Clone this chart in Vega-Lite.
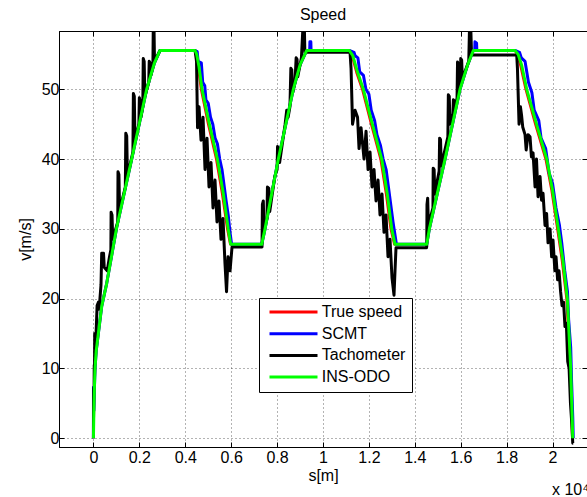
{
  "$schema": "https://vega.github.io/schema/vega-lite/v6.json",
  "width": 528,
  "height": 416,
  "autosize": {"type": "none"},
  "padding": {"left": 59, "top": 31, "right": 0, "bottom": 50},
  "background": "white",
  "title": {"text": "Speed", "fontSize": 16, "fontWeight": "normal", "font": "Liberation Sans", "color": "#000", "baseline": "alphabetic", "offset": -5, "anchor": "middle", "frame": "group"},
  "datasets": {
    "red": [
      {"s":0,"v":0},{"s":20,"v":4},{"s":40,"v":7},{"s":70,"v":10},{"s":120,"v":12.5},{"s":213,"v":15},{"s":360,"v":18.9},{"s":578,"v":22.2},{"s":866,"v":27.5},{"s":1013,"v":30.2},{"s":1667,"v":40},{"s":2320,"v":50},{"s":2650,"v":53.7},{"s":2900,"v":55.56},
      {"s":4426,"v":55.56},{"s":4480,"v":54.8},{"s":4570,"v":53},{"s":4690,"v":50},{"s":5000,"v":45},{"s":5350,"v":40},{"s":5610,"v":35},{"s":5830,"v":30},{"s":5960,"v":27.78},
      {"s":7331,"v":27.78},{"s":7475,"v":30},{"s":8054,"v":40},{"s":8708,"v":50},{"s":9000,"v":53.5},{"s":9291,"v":55.56},
      {"s":11147,"v":55.56},{"s":11280,"v":54.6},{"s":11460,"v":52.4},{"s":11710,"v":50},{"s":12100,"v":45},{"s":12510,"v":40},{"s":12750,"v":35},{"s":12950,"v":30},{"s":13110,"v":27.78},
      {"s":14519,"v":27.78},{"s":14632,"v":30},{"s":15316,"v":40},{"s":15969,"v":50},{"s":16300,"v":53.5},{"s":16548,"v":55.56},
      {"s":18366,"v":55.56},{"s":18480,"v":54.8},{"s":18610,"v":53.3},{"s":18830,"v":50},{"s":19250,"v":45},{"s":19700,"v":40},{"s":19960,"v":35.5},{"s":20210,"v":30},{"s":20410,"v":25.5},{"s":20610,"v":20},{"s":20770,"v":10},{"s":20860,"v":0}
    ],
    "blue": [
      {"s":0,"v":0},{"s":2,"v":7.3},{"s":20,"v":4},{"s":40,"v":7},{"s":70,"v":10},{"s":120,"v":12.5},{"s":213,"v":15},{"s":360,"v":18.9},{"s":578,"v":22.2},{"s":866,"v":27.5},{"s":1013,"v":30.2},{"s":1667,"v":40},{"s":2320,"v":50},{"s":2650,"v":53.7},{"s":2900,"v":55.56},
      {"s":4426,"v":55.56},{"s":4520,"v":55.4},{"s":4560,"v":54},{"s":4700,"v":53.8},{"s":4760,"v":51},{"s":4850,"v":50.5},{"s":4900,"v":48.5},{"s":5000,"v":48},{"s":5100,"v":46},{"s":5200,"v":45},{"s":5300,"v":43},{"s":5400,"v":42.2},{"s":5500,"v":40},{"s":5600,"v":38.5},{"s":5700,"v":36},{"s":5780,"v":34},{"s":5870,"v":32},{"s":5950,"v":29.5},{"s":6020,"v":27.78},
      {"s":7331,"v":27.78},{"s":7475,"v":30},{"s":8054,"v":40},{"s":8708,"v":50},{"s":9000,"v":53.5},{"s":9291,"v":55.56},{"s":9420,"v":55.56},{"s":9430,"v":56.8},{"s":9470,"v":56.8},{"s":9480,"v":55.56},
      {"s":11147,"v":55.56},{"s":11350,"v":55.3},{"s":11400,"v":54.8},{"s":11520,"v":54.5},{"s":11600,"v":52.5},{"s":11760,"v":52},{"s":11870,"v":50},{"s":12000,"v":49.3},{"s":12100,"v":47},{"s":12250,"v":45.5},{"s":12350,"v":43.5},{"s":12500,"v":42},{"s":12620,"v":40},{"s":12750,"v":38.5},{"s":12850,"v":36},{"s":12950,"v":33.5},{"s":13050,"v":31},{"s":13120,"v":29.5},{"s":13200,"v":27.78},
      {"s":14519,"v":27.78},{"s":14632,"v":30},{"s":15316,"v":40},{"s":15969,"v":50},{"s":16300,"v":53.5},{"s":16548,"v":55.56},{"s":16610,"v":55.56},{"s":16620,"v":56.8},{"s":16690,"v":56.6},{"s":16700,"v":55.56},
      {"s":18366,"v":55.56},{"s":18560,"v":55.3},{"s":18640,"v":54.5},{"s":18800,"v":54},{"s":18950,"v":51},{"s":19100,"v":49.5},{"s":19200,"v":47},{"s":19400,"v":45.5},{"s":19500,"v":43},{"s":19700,"v":41.5},{"s":19850,"v":38},{"s":20000,"v":36.5},{"s":20150,"v":33},{"s":20300,"v":30.5},{"s":20400,"v":28},{"s":20530,"v":24},{"s":20650,"v":21},{"s":20700,"v":17},{"s":20790,"v":13},{"s":20830,"v":8},{"s":20880,"v":3},{"s":20900,"v":0}
    ],
    "black": [
      {"s":0,"v":0},{"s":3,"v":3},{"s":10,"v":7},{"s":30,"v":7.5},{"s":35,"v":10.5},{"s":50,"v":10.5},{"s":55,"v":15},{"s":100,"v":15},{"s":110,"v":14.5},{"s":160,"v":19},{"s":220,"v":19.5},{"s":250,"v":18.5},{"s":330,"v":22},{"s":360,"v":26.5},{"s":440,"v":26.5},{"s":470,"v":24.5},{"s":600,"v":24},{"s":700,"v":26},{"s":760,"v":27},{"s":770,"v":32.4},{"s":810,"v":32},{"s":840,"v":28.5},{"s":1000,"v":30.3},{"s":1060,"v":31},{"s":1070,"v":38.2},{"s":1110,"v":37.8},{"s":1140,"v":32.6},{"s":1390,"v":36},{"s":1410,"v":43.7},{"s":1450,"v":43.3},{"s":1480,"v":37.5},{"s":1720,"v":41},{"s":1740,"v":49.4},{"s":1780,"v":49},{"s":1810,"v":42.5},{"s":1980,"v":45},{"s":2000,"v":48.8},{"s":2040,"v":48.3},{"s":2070,"v":46},{"s":2150,"v":47.5},{"s":2170,"v":54.4},{"s":2210,"v":54},{"s":2240,"v":49},{"s":2410,"v":51},{"s":2430,"v":54},{"s":2470,"v":53.8},{"s":2500,"v":52},{"s":2590,"v":53.2},{"s":2605,"v":58.5},{"s":2640,"v":58.5},{"s":2660,"v":54},{"s":2900,"v":55.56},
      {"s":4426,"v":55.56},{"s":4491,"v":54},{"s":4535,"v":44.5},{"s":4600,"v":47.5},{"s":4687,"v":42.7},{"s":4774,"v":46},{"s":4861,"v":38.5},{"s":4948,"v":43},{"s":5035,"v":36},{"s":5122,"v":39.5},{"s":5209,"v":33},{"s":5296,"v":37},{"s":5383,"v":31},{"s":5470,"v":34},{"s":5557,"v":28.5},{"s":5644,"v":31.5},{"s":5731,"v":25},{"s":5798,"v":21},{"s":5863,"v":26},{"s":5950,"v":24},{"s":6037,"v":27.4},
      {"s":7344,"v":27.4},{"s":7360,"v":33.5},{"s":7400,"v":34},{"s":7430,"v":30},{"s":7560,"v":31.5},{"s":7580,"v":36},{"s":7640,"v":35.8},{"s":7680,"v":32.5},{"s":7900,"v":37.5},{"s":8000,"v":38.5},{"s":8020,"v":41.8},{"s":8080,"v":41.5},{"s":8110,"v":39.5},{"s":8350,"v":45},{"s":8420,"v":47},{"s":8450,"v":46.5},{"s":8480,"v":46},{"s":8560,"v":47.5},{"s":8600,"v":53},{"s":8640,"v":52.8},{"s":8680,"v":49.5},{"s":8780,"v":51},{"s":8830,"v":54.5},{"s":8870,"v":54.3},{"s":8900,"v":51.8},{"s":9060,"v":54.5},{"s":9120,"v":58.5},{"s":9190,"v":58.5},{"s":9210,"v":55.3},
      {"s":11178,"v":55.3},{"s":11222,"v":53},{"s":11287,"v":45},{"s":11396,"v":47},{"s":11505,"v":46},{"s":11570,"v":41.5},{"s":11657,"v":44.5},{"s":11788,"v":40},{"s":11875,"v":44},{"s":11962,"v":38.5},{"s":12049,"v":41},{"s":12136,"v":36},{"s":12223,"v":38.5},{"s":12310,"v":34},{"s":12397,"v":37},{"s":12484,"v":32},{"s":12571,"v":35},{"s":12658,"v":29.5},{"s":12745,"v":32},{"s":12832,"v":26},{"s":12919,"v":28.5},{"s":13006,"v":23},{"s":13093,"v":20.5},{"s":13137,"v":24},{"s":13180,"v":27.3},
      {"s":14509,"v":27.3},{"s":14520,"v":27.5},{"s":14530,"v":33.5},{"s":14560,"v":34.4},{"s":14590,"v":30.5},{"s":14790,"v":33},{"s":14800,"v":38.7},{"s":14840,"v":38.5},{"s":14870,"v":35},{"s":15060,"v":38.3},{"s":15080,"v":43},{"s":15120,"v":42.8},{"s":15150,"v":39},{"s":15440,"v":43.2},{"s":15460,"v":49.2},{"s":15500,"v":49},{"s":15530,"v":45},{"s":15660,"v":46.5},{"s":15680,"v":48.5},{"s":15720,"v":48.3},{"s":15750,"v":47},{"s":15840,"v":48.8},{"s":15860,"v":53.9},{"s":15900,"v":53.5},{"s":15940,"v":50},{"s":15990,"v":51},{"s":16000,"v":54.4},{"s":16040,"v":54.2},{"s":16070,"v":51.5},{"s":16350,"v":54},{"s":16380,"v":58.5},{"s":16440,"v":58.5},{"s":16470,"v":55},{"s":16560,"v":54.9},
      {"s":18439,"v":54.9},{"s":18470,"v":53},{"s":18540,"v":45},{"s":18600,"v":47.5},{"s":18649,"v":46.3},{"s":18700,"v":44.6},{"s":18801,"v":43.5},{"s":18850,"v":41.3},{"s":18932,"v":43.5},{"s":19019,"v":43.2},{"s":19080,"v":40.3},{"s":19150,"v":40.9},{"s":19237,"v":36},{"s":19300,"v":40},{"s":19368,"v":34.6},{"s":19455,"v":37.5},{"s":19520,"v":34.1},{"s":19585,"v":35.1},{"s":19672,"v":30.5},{"s":19740,"v":32.2},{"s":19803,"v":28},{"s":19890,"v":30},{"s":19960,"v":26},{"s":20020,"v":28.4},{"s":20100,"v":24},{"s":20151,"v":26},{"s":20220,"v":22.7},{"s":20282,"v":24},{"s":20350,"v":21},{"s":20412,"v":19},{"s":20480,"v":19.5},{"s":20540,"v":16},{"s":20600,"v":16.5},{"s":20660,"v":11},{"s":20720,"v":10},{"s":20780,"v":5},{"s":20840,"v":2},{"s":20880,"v":-0.7},{"s":20900,"v":-0.7}
    ],
    "green": [
      {"s":0,"v":0},{"s":20,"v":4},{"s":40,"v":7},{"s":70,"v":10},{"s":120,"v":12.5},{"s":213,"v":15},{"s":360,"v":18.9},{"s":578,"v":22.2},{"s":866,"v":27.5},{"s":1013,"v":30.2},{"s":1667,"v":40},{"s":2320,"v":50},{"s":2650,"v":53.7},{"s":2900,"v":55.56},
      {"s":4426,"v":55.56},{"s":4500,"v":55},{"s":4600,"v":53.2},{"s":4730,"v":50},{"s":5050,"v":45},{"s":5400,"v":40},{"s":5660,"v":35},{"s":5870,"v":30},{"s":5980,"v":27.78},
      {"s":7331,"v":27.78},{"s":7475,"v":30},{"s":8054,"v":40},{"s":8708,"v":50},{"s":9000,"v":53.5},{"s":9291,"v":55.56},
      {"s":11147,"v":55.56},{"s":11300,"v":54.8},{"s":11500,"v":52.5},{"s":11757,"v":50},{"s":12150,"v":45},{"s":12558,"v":40},{"s":12800,"v":35},{"s":12994,"v":30},{"s":13138,"v":27.78},
      {"s":14519,"v":27.78},{"s":14632,"v":30},{"s":15316,"v":40},{"s":15969,"v":50},{"s":16300,"v":53.5},{"s":16548,"v":55.56},
      {"s":18366,"v":55.56},{"s":18500,"v":55},{"s":18650,"v":53.5},{"s":18875,"v":50},{"s":19300,"v":45},{"s":19746,"v":40},{"s":20000,"v":35.5},{"s":20251,"v":30},{"s":20450,"v":25.5},{"s":20643,"v":20},{"s":20791,"v":10},{"s":20879,"v":0}
    ]
  },
  "resolve": {"axis": {"x": "independent", "y": "independent"}},
  "layer": [
    {
      "data": {"name": "red"},
      "mark": {"type": "line", "strokeWidth": 2.5, "clip": true, "strokeJoin": "round"},
      "encoding": {
        "x": {"field": "s", "type": "quantitative", "scale": {"domain": [-1500, 21500], "nice": false, "zero": false},
          "axis": {"orient": "bottom", "values": [0,2000,4000,6000,8000,10000,12000,14000,16000,18000,20000], "labelExpr": "datum.value/10000", "grid": true, "gridDash": [1,3], "gridColor": "#000", "gridOpacity": 0.6, "tickSize": -5, "tickColor": "#000", "domainColor": "#000", "labelFontSize": 16, "labelColor": "#000", "labelPadding": 7, "labelFont": "Liberation Sans", "title": "s[m]", "titleFont": "Liberation Sans", "titleFontSize": 16, "titleFontWeight": "normal", "titleColor": "#000", "titlePadding": 2}},
        "y": {"field": "v", "type": "quantitative", "scale": {"domain": [-1.25, 58.35], "nice": false, "zero": false},
          "axis": {"orient": "left", "values": [0,10,20,30,40,50], "grid": true, "gridDash": [1,3], "gridColor": "#000", "gridOpacity": 0.6, "tickSize": -5, "tickColor": "#000", "domainColor": "#000", "labelFontSize": 16, "labelColor": "#000", "labelPadding": 5, "labelFont": "Liberation Sans", "title": "v[m/s]", "titleFont": "Liberation Sans", "titleFontSize": 16, "titleFontWeight": "normal", "titleColor": "#000", "titlePadding": 8}},
        "color": {"datum": "True speed", "type": "nominal",
          "scale": {"domain": ["True speed", "SCMT", "Tachometer", "INS-ODO"], "range": ["#ff0000", "#0000ff", "#000000", "#00ff00"]},
          "legend": {"orient": "none", "legendX": 200, "legendY": 267, "title": null, "symbolType": "M-4,0L4,0", "symbolSize": 144, "symbolStrokeWidth": 3, "labelFontSize": 16, "labelFont": "Liberation Sans", "labelColor": "#000", "labelAlign": "left", "rowPadding": 5.7, "padding": 6, "strokeColor": "#000", "fillColor": "#fff", "symbolOffset": 20.5, "labelOffset": 20.3}}
      }
    },
    {
      "data": {"name": "blue"},
      "mark": {"type": "line", "strokeWidth": 3, "clip": true, "strokeJoin": "round"},
      "encoding": {
        "x": {"field": "s", "type": "quantitative", "axis": null},
        "y": {"field": "v", "type": "quantitative", "axis": null},
        "color": {"datum": "SCMT", "type": "nominal"}
      }
    },
    {
      "data": {"name": "black"},
      "mark": {"type": "line", "strokeWidth": 3, "clip": true, "strokeJoin": "round"},
      "encoding": {
        "x": {"field": "s", "type": "quantitative", "axis": null},
        "y": {"field": "v", "type": "quantitative", "axis": null},
        "color": {"datum": "Tachometer", "type": "nominal"}
      }
    },
    {
      "data": {"name": "green"},
      "mark": {"type": "line", "strokeWidth": 3, "clip": true, "strokeJoin": "round"},
      "encoding": {
        "x": {"field": "s", "type": "quantitative", "axis": {"orient": "top", "values": [0,2000,4000,6000,8000,10000,12000,14000,16000,18000,20000], "labels": false, "grid": false, "tickSize": -5, "tickColor": "#000", "domainColor": "#000", "title": null}},
        "y": {"field": "v", "type": "quantitative", "axis": {"orient": "right", "values": [0,10,20,30,40,50], "labels": false, "grid": false, "tickSize": -5, "tickColor": "#000", "domainColor": "#000", "title": null}},
        "color": {"datum": "INS-ODO", "type": "nominal"}
      }
    },
    {
      "data": {"values": [{}]},
      "mark": {"type": "text", "text": "x 10⁴", "align": "left", "baseline": "alphabetic", "fontSize": 16, "font": "Liberation Sans", "color": "#000", "clip": false},
      "encoding": {
        "x": {"datum": 19976, "type": "quantitative", "axis": null},
        "y": {"datum": -8.1, "type": "quantitative", "axis": null}
      }
    }
  ],
  "config": {
    "font": "Liberation Sans",
    "view": {"stroke": "#000", "strokeWidth": 1}
  }
}
